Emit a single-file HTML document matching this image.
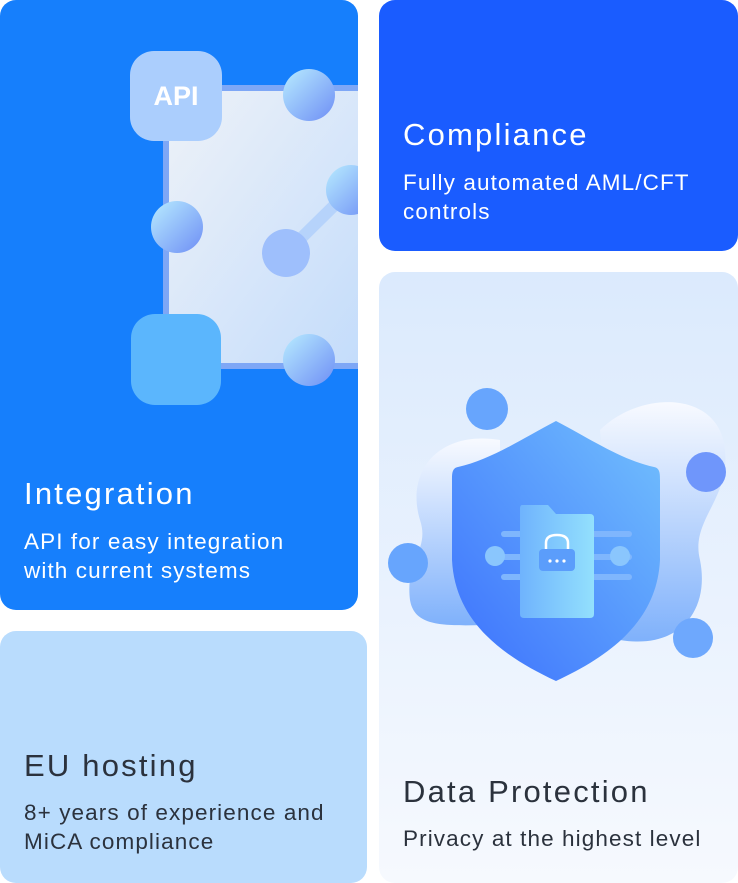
<!DOCTYPE html>
<html><head><meta charset="utf-8"><style>
body{margin:0;width:738px;height:883px;background:#fff;position:relative;overflow:hidden;font-family:"Liberation Sans",sans-serif}
.c{position:absolute;border-radius:16px;overflow:hidden}
.t{position:absolute;font-size:31px;white-space:nowrap;letter-spacing:2.2px}
.s{position:absolute;font-size:22.5px;line-height:29px;letter-spacing:1.1px;white-space:nowrap}
</style></head><body>
<div class="c" style="left:0;top:0;width:358px;height:610px;background:#167ffc">
<svg width="358" height="610" style="position:absolute;left:0;top:0">
<defs>
<linearGradient id="p" x1="0" y1="0" x2="1" y2="1"><stop offset="0" stop-color="#eef2f8"/><stop offset="1" stop-color="#c3dcfb"/></linearGradient>
<linearGradient id="b" x1="0" y1="0" x2="1" y2="1"><stop offset="0" stop-color="#b8ecff"/><stop offset="1" stop-color="#6e8ef5"/></linearGradient>
</defs>
<rect x="166" y="88" width="200" height="278" fill="url(#p)" stroke="#7ea7f6" stroke-width="6"/>
<line x1="286" y1="253" x2="350" y2="190" stroke="#b6d3fb" stroke-width="12" stroke-linecap="round"/>
<circle cx="286" cy="253" r="24" fill="#9ebffc"/>
<circle cx="351" cy="190" r="25" fill="url(#b)"/>
<circle cx="309" cy="95" r="26" fill="url(#b)"/>
<circle cx="177" cy="227" r="26" fill="url(#b)"/>
<circle cx="309" cy="360" r="26" fill="url(#b)"/>
<rect x="130" y="51" width="92" height="90" rx="24" fill="#abcefd"/>
<rect x="131" y="314" width="90" height="91" rx="24" fill="#5bb6fd"/>
<text x="176" y="105" fill="#fff" font-size="27" font-weight="bold" text-anchor="middle" font-family="Liberation Sans">API</text>
</svg>
<div class="t" style="left:24px;top:476px;color:#fff">Integration</div>
<div class="s" style="left:24px;top:527px;color:#fff">API for easy integration<br>with current systems</div>
</div>
<div class="c" style="left:379px;top:0;width:359px;height:251px;background:#1a5cff">
<div class="t" style="left:24px;top:117px;color:#fff">Compliance</div>
<div class="s" style="left:24px;top:168px;color:#fff">Fully automated AML/CFT<br>controls</div>
</div>
<div class="c" style="left:379px;top:272px;width:359px;height:611px;background:linear-gradient(180deg,#dbeafd,#f6f9fe)">
<svg width="359" height="611" style="position:absolute;left:0;top:0" viewBox="379 272 359 611">
<defs>
<linearGradient id="bl" x1="0" y1="0" x2="0" y2="1"><stop offset="0" stop-color="#f8faff"/><stop offset="1" stop-color="#7fb1fb"/></linearGradient>
<linearGradient id="sh" x1="1" y1="0" x2="0" y2="1"><stop offset="0" stop-color="#72c0fd"/><stop offset="1" stop-color="#3b6ffd"/></linearGradient>
<linearGradient id="f" x1="0" y1="0" x2="1" y2="0"><stop offset="0" stop-color="#6fb3fd"/><stop offset="1" stop-color="#93e0fd"/></linearGradient>
</defs>
<path d="M500 440 C440 430 405 470 420 520 C430 550 405 560 410 600 C415 630 450 625 500 625 Z" fill="url(#bl)"/>
<path d="M600 430 C640 390 720 390 725 450 C730 500 690 520 700 560 C710 610 680 650 620 640 Z" fill="url(#bl)"/>
<path d="M556 421 C520 440 490 460 458 467 C452 468 452 474 452 480 L452 560 C455 620 500 655 556 681 C612 655 657 620 660 560 L660 480 C660 474 660 468 654 467 C622 460 592 440 556 421 Z" fill="url(#sh)"/>
<rect x="501" y="531" width="42" height="6" rx="3" fill="#7fb6fd"/><rect x="501" y="554" width="42" height="6" rx="3" fill="#7fb6fd"/><rect x="501" y="574" width="42" height="6" rx="3" fill="#7fb6fd"/>
<rect x="590" y="531" width="42" height="6" rx="3" fill="#7fb6fd"/><rect x="590" y="554" width="42" height="6" rx="3" fill="#7fb6fd"/><rect x="590" y="574" width="42" height="6" rx="3" fill="#7fb6fd"/>
<circle cx="495" cy="556" r="10" fill="#8ac6fd"/><circle cx="620" cy="556" r="10" fill="#8ac6fd"/>
<path d="M522 505 L548 505 L556 514 L590 514 Q594 514 594 518 L594 614 Q594 618 590 618 L524 618 Q520 618 520 614 L520 509 Q520 505 522 505 Z" fill="url(#f)"/>
<rect x="539" y="549" width="36" height="22" rx="4" fill="#5b9dfb"/>
<path d="M546 549 L546 543 Q546 535 557 535 Q568 535 568 543 L568 549" fill="none" stroke="#fff" stroke-width="2.5"/>
<circle cx="550" cy="561" r="1.6" fill="#fff"/><circle cx="557" cy="561" r="1.6" fill="#fff"/><circle cx="564" cy="561" r="1.6" fill="#fff"/>
<circle cx="487" cy="409" r="21" fill="#67a5fd"/>
<circle cx="706" cy="472" r="20" fill="#6f96fb"/>
<circle cx="408" cy="563" r="20" fill="#67a5fd"/>
<circle cx="693" cy="638" r="20" fill="#6ea8fd"/>
</svg>
<div class="t" style="left:24px;top:502px;color:#2b323d">Data Protection</div>
<div class="s" style="left:24px;top:552px;color:#2b323d">Privacy at the highest level</div>
</div>
<div class="c" style="left:0;top:631px;width:367px;height:252px;background:#b9dcfd">
<div class="t" style="left:24px;top:117px;color:#2b323d">EU hosting</div>
<div class="s" style="left:24px;top:167px;color:#2b323d">8+ years of experience and<br>MiCA compliance</div>
</div>
</body></html>
